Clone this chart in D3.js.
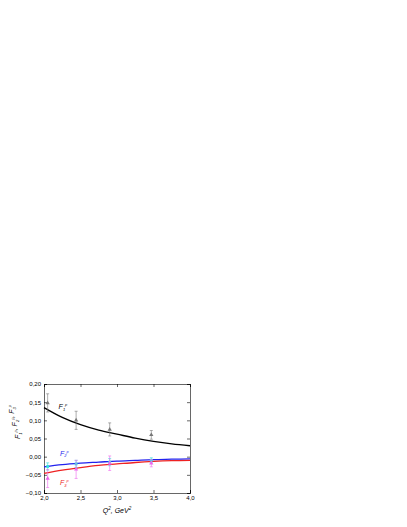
<!DOCTYPE html>
<meta charset="utf-8">
<style>
body { margin: 0; background: #fff; font-family: Arial, "Liberation Sans", sans-serif; }
.axis text { font-size: 6px; fill: #000; }
.axis path, .axis line { stroke: #000; stroke-width: 0.6; }
</style>
<body>
<script src="https://d3js.org/d3.v7.min.js"></script>
<script>
// curve samples
var curveQ = [2.0, 2.25, 2.5, 2.75, 3.0, 3.25, 3.5, 3.75, 4.0];
var f1Curve = [0.135, 0.108, 0.088, 0.073, 0.062, 0.051, 0.042, 0.035, 0.030];
var f2Curve = [-0.028, -0.022, -0.018, -0.015, -0.012, -0.010, -0.008, -0.007, -0.006];
var f3Curve = [-0.046, -0.037, -0.030, -0.024, -0.020, -0.016, -0.013, -0.011, -0.010];
// measured points
var pointQ = [2.05, 2.44, 2.9, 3.47];
var f1Pts = [0.148, 0.100, 0.075, 0.060], f1Err = [0.025, 0.025, 0.018, 0.012];
var f2Pts = [-0.027, -0.020, -0.015, -0.010], f2Err = [0.010, 0.010, 0.010, 0.007];
var f3Pts = [-0.060, -0.035, -0.018, -0.018], f3Err = [0.025, 0.025, 0.020, 0.010];
var xTicks = [2.0, 2.5, 3.0, 3.5, 4.0];
var yTicks = [-0.10, -0.05, 0.00, 0.05, 0.10, 0.15, 0.20];

var margin = {top: 384, left: 44}, width = 146, height = 109;
var svg = d3.select("body").append("svg").attr("width", 407).attr("height", 527);
var g = svg.append("g").attr("transform", "translate(" + margin.left + "," + margin.top + ")");

var x = d3.scaleLinear().domain([2, 4]).range([0, width]);
var y = d3.scaleLinear().domain([-0.10, 0.20]).range([height, 0]);
var fmt = function(d) { return d3.format(".2f")(d).replace(".", ","); };
var fmtX = function(d) { return d3.format(".1f")(d).replace(".", ","); };

g.append("g").attr("class", "axis").attr("transform", "translate(0," + height + ")")
  .call(d3.axisBottom(x).tickValues(xTicks).tickFormat(fmtX).tickSize(-3).tickPadding(3));
g.append("g").attr("class", "axis")
  .call(d3.axisLeft(y).tickValues(yTicks).tickFormat(fmt).tickSize(-3).tickPadding(3));
g.append("g").attr("class", "axis")
  .call(d3.axisTop(x).tickValues(xTicks).tickFormat("").tickSize(-3));
g.append("g").attr("class", "axis").attr("transform", "translate(" + width + ",0)")
  .call(d3.axisRight(y).tickValues(yTicks).tickFormat("").tickSize(-3));

var line = d3.line().x(function(d) { return x(d[0]); }).y(function(d) { return y(d[1]); }).curve(d3.curveMonotoneX);
[[f1Curve, "#000"], [f2Curve, "#2222ee"], [f3Curve, "#ee2222"]].forEach(function(c) {
  g.append("path").datum(curveQ.map(function(q, i) { return [q, c[0][i]]; }))
    .attr("d", line).attr("fill", "none").attr("stroke", c[1]).attr("stroke-width", 1.3);
});

function drawPts(vals, errs, col, shape) {
  vals.forEach(function(v, i) {
    var cx = x(pointQ[i]);
    g.append("line").attr("x1", cx).attr("x2", cx).attr("y1", y(v - errs[i])).attr("y2", y(v + errs[i]))
      .attr("stroke", col).attr("stroke-width", 0.6);
    [v - errs[i], v + errs[i]].forEach(function(e) {
      g.append("line").attr("x1", cx - 1.5).attr("x2", cx + 1.5).attr("y1", y(e)).attr("y2", y(e))
        .attr("stroke", col).attr("stroke-width", 0.6);
    });
    g.append("path").attr("transform", "translate(" + cx + "," + y(v) + ")")
      .attr("d", d3.symbol().type(shape).size(8)).attr("fill", col);
  });
}
drawPts(f1Pts, f1Err, "#777", d3.symbolTriangle);
drawPts(f2Pts, f2Err, "#33dddd", d3.symbolSquare);
drawPts(f3Pts, f3Err, "#ee66ee", d3.symbolTriangle);

function label(xv, yv, col, sub) {
  var t = g.append("text").attr("x", x(xv)).attr("y", y(yv)).attr("fill", col)
    .attr("font-size", 7).attr("font-style", "italic");
  t.append("tspan").text("F");
  t.append("tspan").attr("font-size", 4).attr("dy", 1.5).text(sub);
  t.append("tspan").attr("font-size", 4).attr("dy", -4.5).text("p");
}
label(2.2, 0.13, "#000", "1");
label(2.22, 0.002, "#2222ee", "2");
label(2.22, -0.078, "#ee2222", "3");

var xl = svg.append("text").attr("x", margin.left + width / 2).attr("y", margin.top + height + 20)
  .attr("text-anchor", "middle").attr("font-size", 7).attr("font-style", "italic");
xl.append("tspan").text("Q");
xl.append("tspan").attr("font-size", 4.5).attr("dy", -3).text("2");
xl.append("tspan").attr("dy", 3).text(", GeV");
xl.append("tspan").attr("font-size", 4.5).attr("dy", -3).text("2");

var yl = svg.append("text").attr("transform", "translate(20," + (margin.top + 38) + ") rotate(-90)")
  .attr("text-anchor", "middle").attr("font-size", 7).attr("font-style", "italic");
["1", "2", "3"].forEach(function(s, i) {
  yl.append("tspan").attr("dy", i ? 0 : null).text((i ? ", " : "") + "F");
  yl.append("tspan").attr("font-size", 4).attr("dy", 1.5).text(s);
  yl.append("tspan").attr("font-size", 4).attr("dy", -4.5).text("p");
  yl.append("tspan").attr("font-size", 7).attr("dy", 3).text("");
});
</script>
</body>
